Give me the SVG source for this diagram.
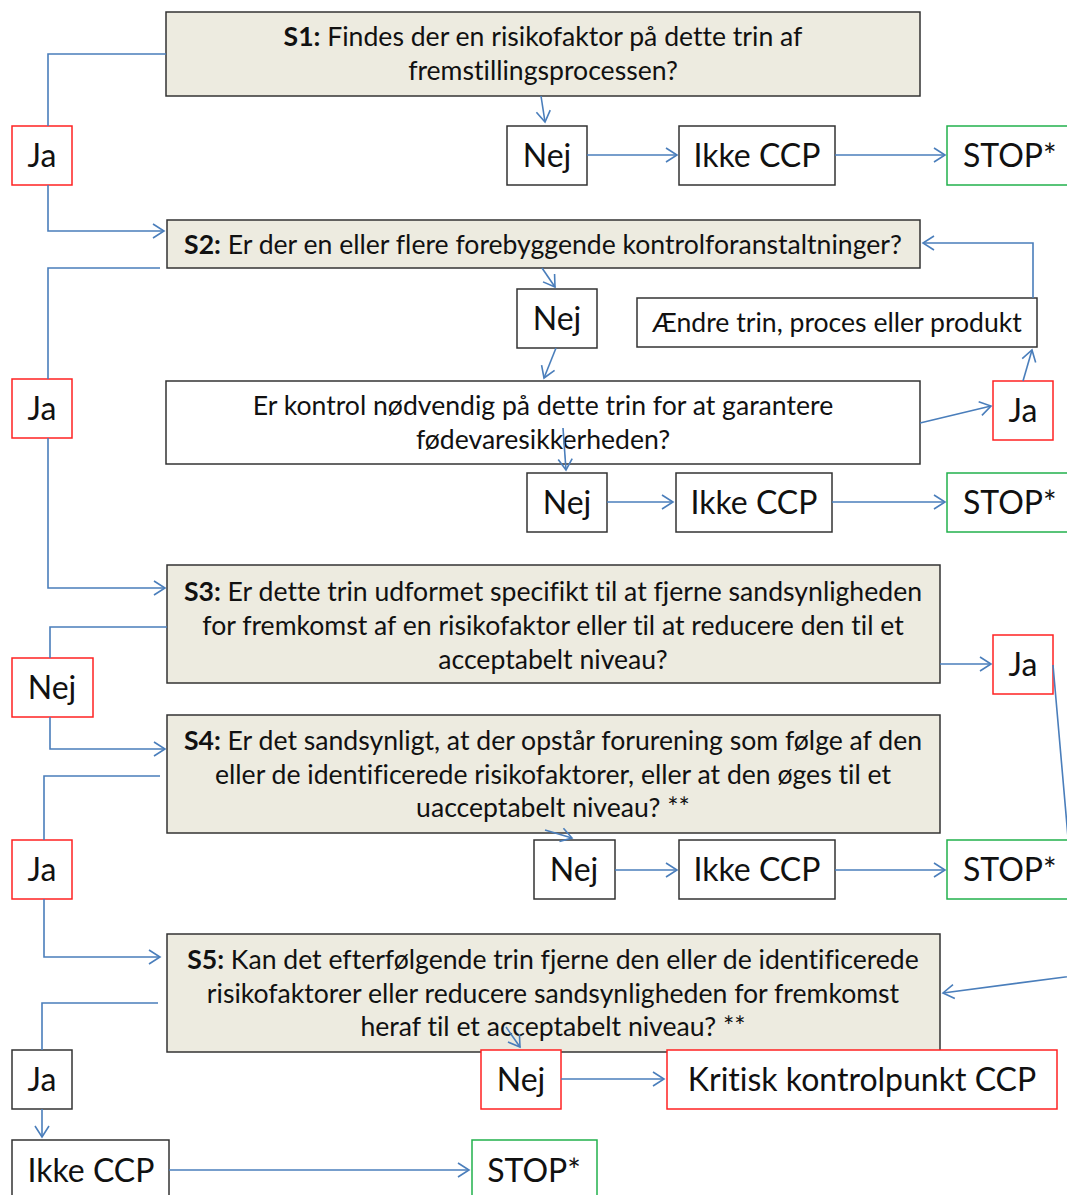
<svg xmlns="http://www.w3.org/2000/svg" width="1067" height="1195" viewBox="0 0 1067 1195">
<style>
.q{fill:#EDEBE0;stroke:#333;stroke-width:1.5}
.w{fill:#fff;stroke:#333;stroke-width:1.5}
.r{fill:#fff;stroke:#F22;stroke-width:1.5}
.g{fill:#fff;stroke:#22B14C;stroke-width:1.5}
.t{font-family:Lato,"Open Sans",sans-serif;font-size:26.6px;fill:#111;text-anchor:middle;font-variant-ligatures:none}
.b{font-size:32px}
.s{text-anchor:start}
.c{fill:none;stroke:#4A7EBB;stroke-width:1.6}
</style>
<defs>
<marker id="a" markerWidth="14" markerHeight="18" refX="12" refY="8" orient="auto" markerUnits="userSpaceOnUse">
<path d="M1,1 L12,8 L1,15" fill="none" stroke="#4A7EBB" stroke-width="1.6"/>
</marker>
</defs>
<g id="s1"><rect class="q" x="166" y="12" width="754" height="84"/>
<text class="t" x="543" y="46"><tspan font-weight="bold">S1:</tspan> Findes der en risikofaktor på dette trin af</text>
<text class="t" x="543" y="80">fremstillingsprocessen?</text></g>
<g id="ja1"><rect class="r" x="12" y="126" width="60" height="59"/><text class="t b" x="42" y="167">Ja</text></g>
<g id="nej1"><rect class="w" x="507" y="126" width="80" height="59"/><text class="t b" x="547" y="167">Nej</text></g>
<g id="ikke1"><rect class="w" x="679" y="126" width="156" height="59"/><text class="t b" x="757" y="167">Ikke CCP</text></g>
<g id="stop1"><rect class="g" x="947" y="126" width="140" height="59"/><text class="t b s" x="963" y="167">STOP*</text></g>
<g id="s2"><rect class="q" x="167" y="220" width="753" height="48"/>
<text class="t" x="543" y="254"><tspan font-weight="bold">S2:</tspan> Er der en eller flere forebyggende kontrolforanstaltninger?</text></g>
<g id="nej2"><rect class="w" x="517" y="289" width="80" height="59"/><text class="t b" x="557" y="330">Nej</text></g>
<g id="aendre"><rect class="w" x="637" y="298" width="400" height="49"/><text class="t" x="837" y="332">Ændre trin, proces eller produkt</text></g>
<g id="ja2"><rect class="r" x="12" y="379" width="60" height="59"/><text class="t b" x="42" y="420">Ja</text></g>
<g id="erkontrol"><rect class="w" x="166" y="381" width="754" height="83"/>
<text class="t" x="543" y="415">Er kontrol nødvendig på dette trin for at garantere</text>
<text class="t" x="543" y="449">fødevaresikkerheden?</text></g>
<g id="jar"><rect class="r" x="993" y="381" width="60" height="59"/><text class="t b" x="1023" y="422">Ja</text></g>
<g id="nej3"><rect class="w" x="527" y="473" width="80" height="59"/><text class="t b" x="567" y="514">Nej</text></g>
<g id="ikke2"><rect class="w" x="676" y="473" width="156" height="59"/><text class="t b" x="754" y="514">Ikke CCP</text></g>
<g id="stop2"><rect class="g" x="947" y="473" width="140" height="59"/><text class="t b s" x="963" y="514">STOP*</text></g>
<g id="s3"><rect class="q" x="167" y="565" width="773" height="118"/>
<text class="t" x="553" y="601"><tspan font-weight="bold">S3:</tspan> Er dette trin udformet specifikt til at fjerne sandsynligheden</text>
<text class="t" x="553" y="635">for fremkomst af en risikofaktor eller til at reducere den til et</text>
<text class="t" x="553" y="669">acceptabelt niveau?</text></g>
<g id="ja3"><rect class="r" x="993" y="635" width="60" height="59"/><text class="t b" x="1023" y="676">Ja</text></g>
<g id="nejl"><rect class="r" x="12" y="658" width="81" height="59"/><text class="t b" x="52" y="699">Nej</text></g>
<g id="s4"><rect class="q" x="167" y="715" width="773" height="118"/>
<text class="t" x="553" y="750"><tspan font-weight="bold">S4:</tspan> Er det sandsynligt, at der opstår forurening som følge af den</text>
<text class="t" x="553" y="784">eller de identificerede risikofaktorer, eller at den øges til et</text>
<text class="t" x="553" y="817">uacceptabelt niveau? **</text></g>
<g id="nej4"><rect class="w" x="534" y="840" width="81" height="59"/><text class="t b" x="574" y="881">Nej</text></g>
<g id="ikke3"><rect class="w" x="679" y="840" width="156" height="59"/><text class="t b" x="757" y="881">Ikke CCP</text></g>
<g id="stop3"><rect class="g" x="947" y="840" width="140" height="59"/><text class="t b s" x="963" y="881">STOP*</text></g>
<g id="ja4"><rect class="r" x="12" y="840" width="60" height="59"/><text class="t b" x="42" y="881">Ja</text></g>
<g id="s5"><rect class="q" x="167" y="934" width="773" height="118"/>
<text class="t" x="553" y="969"><tspan font-weight="bold">S5:</tspan> Kan det efterfølgende trin fjerne den eller de identificerede</text>
<text class="t" x="553" y="1003">risikofaktorer eller reducere sandsynligheden for fremkomst</text>
<text class="t" x="553" y="1036">heraf til et acceptabelt niveau? **</text></g>
<g id="ja5"><rect class="w" x="12" y="1050" width="60" height="59"/><text class="t b" x="42" y="1091">Ja</text></g>
<g id="nej5"><rect class="r" x="481" y="1050" width="80" height="59"/><text class="t b" x="521" y="1091">Nej</text></g>
<g id="kritisk"><rect class="r" x="667" y="1050" width="390" height="59"/><text class="t b" x="862" y="1091">Kritisk kontrolpunkt CCP</text></g>
<g id="ikke4"><rect class="w" x="12" y="1140" width="157" height="70"/><text class="t b" x="91" y="1182">Ikke CCP</text></g>
<g id="stop4"><rect class="g" x="472" y="1140" width="125" height="70"/><text class="t b" x="534" y="1182">STOP*</text></g>
<g id="connectors">
<path class="c" d="M166,54 H48 V126"/>
<path class="c" d="M48,185 V231 H164" marker-end="url(#a)"/>
<path class="c" d="M541,96 L545,122" marker-end="url(#a)"/>
<path class="c" d="M587,155 H677" marker-end="url(#a)"/>
<path class="c" d="M835,155 H945" marker-end="url(#a)"/>
<path class="c" d="M160,268 H48 V379"/>
<path class="c" d="M48,438 V588 H165" marker-end="url(#a)"/>
<path class="c" d="M542,268 L555,287" marker-end="url(#a)"/>
<path class="c" d="M556,348 L544,378" marker-end="url(#a)"/>
<path class="c" d="M920,423 L991,406" marker-end="url(#a)"/>
<path class="c" d="M1023,381 L1032,350" marker-end="url(#a)"/>
<path class="c" d="M1033,298 V243 H923" marker-end="url(#a)"/>
<path class="c" d="M563,428 L566,470" marker-end="url(#a)"/>
<path class="c" d="M607,502 H673" marker-end="url(#a)"/>
<path class="c" d="M832,502 H945" marker-end="url(#a)"/>
<path class="c" d="M167,627 H50 V658"/>
<path class="c" d="M50,717 V749 H165" marker-end="url(#a)"/>
<path class="c" d="M940,664 H991" marker-end="url(#a)"/>
<path class="c" d="M1053,665 L1080,975 L943,993" marker-end="url(#a)"/>
<path class="c" d="M160,776 H44 V840"/>
<path class="c" d="M44,899 V957 H160" marker-end="url(#a)"/>
<path class="c" d="M545,830 L572,838" marker-end="url(#a)"/>
<path class="c" d="M615,870 H677" marker-end="url(#a)"/>
<path class="c" d="M835,870 H945" marker-end="url(#a)"/>
<path class="c" d="M158,1003 H42 V1050"/>
<path class="c" d="M42,1109 V1137" marker-end="url(#a)"/>
<path class="c" d="M506,1027 L520,1047" marker-end="url(#a)"/>
<path class="c" d="M561,1079 H664" marker-end="url(#a)"/>
<path class="c" d="M169,1170 H469" marker-end="url(#a)"/>
</g>
</svg>
